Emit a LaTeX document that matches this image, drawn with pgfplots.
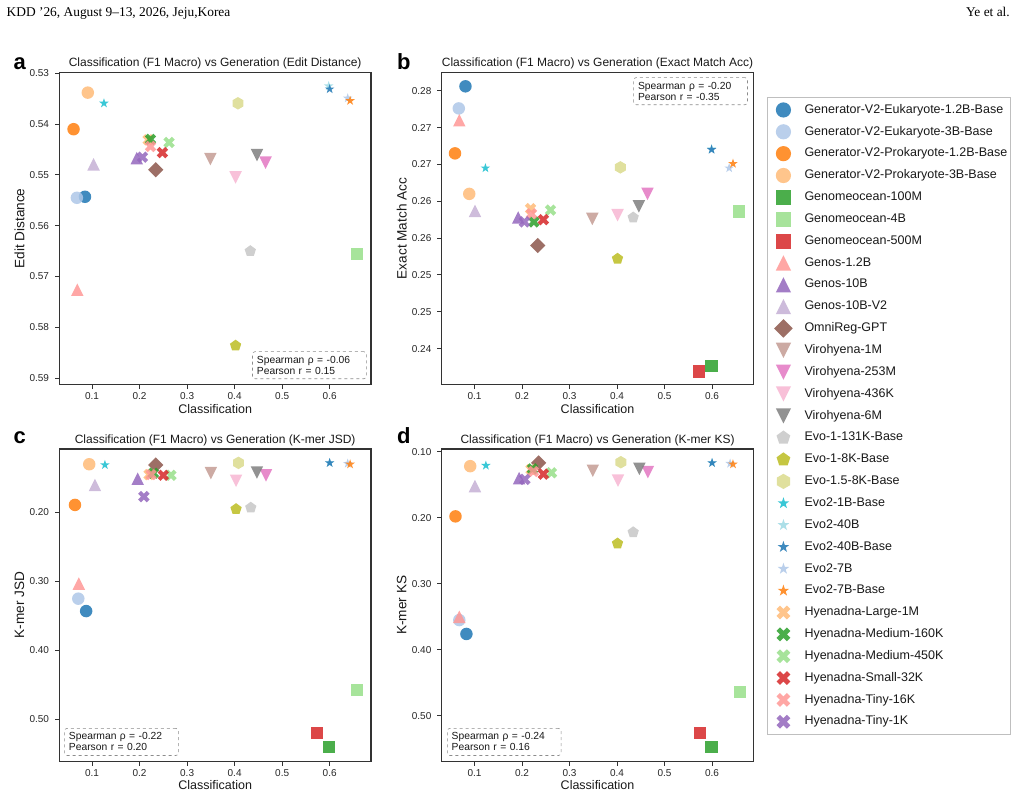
\documentclass[border=0pt]{standalone}
\usepackage{fontspec}
\setmainfont{Liberation Sans}
\newfontfamily\hdrfont{Liberation Serif}
\usepackage{pgfplots}
\pgfplotsset{compat=1.18}

% ---------- marker shapes (matplotlib-like, filled, no edge) ----------
\pgfdeclareplotmark{mc}{\pgfpathcircle{\pgfpointorigin}{\pgfplotmarksize}\pgfusepathqfill}
\pgfdeclareplotmark{msq}{\pgfpathrectanglecorners{\pgfpoint{-0.98\pgfplotmarksize}{-0.98\pgfplotmarksize}}{\pgfpoint{0.98\pgfplotmarksize}{0.98\pgfplotmarksize}}\pgfusepathqfill}
\pgfdeclareplotmark{mtu}{\pgfpathmoveto{\pgfpoint{0pt}{\pgfplotmarksize}}\pgfpathlineto{\pgfpoint{-\pgfplotmarksize}{-\pgfplotmarksize}}\pgfpathlineto{\pgfpoint{\pgfplotmarksize}{-\pgfplotmarksize}}\pgfpathclose\pgfusepathqfill}
\pgfdeclareplotmark{mtd}{\pgfpathmoveto{\pgfpoint{0pt}{-\pgfplotmarksize}}\pgfpathlineto{\pgfpoint{-\pgfplotmarksize}{\pgfplotmarksize}}\pgfpathlineto{\pgfpoint{\pgfplotmarksize}{\pgfplotmarksize}}\pgfpathclose\pgfusepathqfill}
\pgfdeclareplotmark{md}{\pgfpathmoveto{\pgfpoint{0pt}{1.22\pgfplotmarksize}}\pgfpathlineto{\pgfpoint{1.22\pgfplotmarksize}{0pt}}\pgfpathlineto{\pgfpoint{0pt}{-1.22\pgfplotmarksize}}\pgfpathlineto{\pgfpoint{-1.22\pgfplotmarksize}{0pt}}\pgfpathclose\pgfusepathqfill}
\pgfdeclareplotmark{mp}{\pgfpathmoveto{\pgfpointpolar{90}{0.95\pgfplotmarksize}}\pgfpathlineto{\pgfpointpolar{162}{0.95\pgfplotmarksize}}\pgfpathlineto{\pgfpointpolar{234}{0.95\pgfplotmarksize}}\pgfpathlineto{\pgfpointpolar{306}{0.95\pgfplotmarksize}}\pgfpathlineto{\pgfpointpolar{18}{0.95\pgfplotmarksize}}\pgfpathclose\pgfusepathqfill}
\pgfdeclareplotmark{mh}{\pgfpathmoveto{\pgfpointpolar{90}{\pgfplotmarksize}}\pgfpathlineto{\pgfpointpolar{150}{\pgfplotmarksize}}\pgfpathlineto{\pgfpointpolar{210}{\pgfplotmarksize}}\pgfpathlineto{\pgfpointpolar{270}{\pgfplotmarksize}}\pgfpathlineto{\pgfpointpolar{330}{\pgfplotmarksize}}\pgfpathlineto{\pgfpointpolar{30}{\pgfplotmarksize}}\pgfpathclose\pgfusepathqfill}
\pgfdeclareplotmark{mstar}{\pgfpathmoveto{\pgfpointpolar{90}{0.8\pgfplotmarksize}}\pgfpathlineto{\pgfpointpolar{126}{0.31\pgfplotmarksize}}\pgfpathlineto{\pgfpointpolar{162}{0.8\pgfplotmarksize}}\pgfpathlineto{\pgfpointpolar{198}{0.31\pgfplotmarksize}}\pgfpathlineto{\pgfpointpolar{234}{0.8\pgfplotmarksize}}\pgfpathlineto{\pgfpointpolar{270}{0.31\pgfplotmarksize}}\pgfpathlineto{\pgfpointpolar{306}{0.8\pgfplotmarksize}}\pgfpathlineto{\pgfpointpolar{342}{0.31\pgfplotmarksize}}\pgfpathlineto{\pgfpointpolar{18}{0.8\pgfplotmarksize}}\pgfpathlineto{\pgfpointpolar{54}{0.31\pgfplotmarksize}}\pgfpathclose\pgfusepathqfill}
\pgfdeclareplotmark{mX}{\pgfpathmoveto{\pgfpoint{-0.455\pgfplotmarksize}{-0.91\pgfplotmarksize}}\pgfpathlineto{\pgfpoint{0pt}{-0.455\pgfplotmarksize}}\pgfpathlineto{\pgfpoint{0.455\pgfplotmarksize}{-0.91\pgfplotmarksize}}\pgfpathlineto{\pgfpoint{0.91\pgfplotmarksize}{-0.455\pgfplotmarksize}}\pgfpathlineto{\pgfpoint{0.455\pgfplotmarksize}{0pt}}\pgfpathlineto{\pgfpoint{0.91\pgfplotmarksize}{0.455\pgfplotmarksize}}\pgfpathlineto{\pgfpoint{0.455\pgfplotmarksize}{0.91\pgfplotmarksize}}\pgfpathlineto{\pgfpoint{0pt}{0.455\pgfplotmarksize}}\pgfpathlineto{\pgfpoint{-0.455\pgfplotmarksize}{0.91\pgfplotmarksize}}\pgfpathlineto{\pgfpoint{-0.91\pgfplotmarksize}{0.455\pgfplotmarksize}}\pgfpathlineto{\pgfpoint{-0.455\pgfplotmarksize}{0pt}}\pgfpathlineto{\pgfpoint{-0.91\pgfplotmarksize}{-0.455\pgfplotmarksize}}\pgfpathclose\pgfusepathqfill}

% ---------- colours (tab20) ----------
\definecolor{t01}{HTML}{1F77B4}\definecolor{t02}{HTML}{AEC7E8}
\definecolor{t03}{HTML}{FF7F0E}\definecolor{t04}{HTML}{FFBB78}
\definecolor{t05}{HTML}{2CA02C}\definecolor{t06}{HTML}{98DF8A}
\definecolor{t07}{HTML}{D62728}\definecolor{t08}{HTML}{FF9896}
\definecolor{t09}{HTML}{9467BD}\definecolor{t10}{HTML}{C5B0D5}
\definecolor{t11}{HTML}{8C564B}\definecolor{t12}{HTML}{C49C94}
\definecolor{t13}{HTML}{E377C2}\definecolor{t14}{HTML}{F7B6D2}
\definecolor{t15}{HTML}{7F7F7F}\definecolor{t16}{HTML}{C7C7C7}
\definecolor{t17}{HTML}{BCBD22}\definecolor{t18}{HTML}{DBDB8D}
\definecolor{t19}{HTML}{17BECF}\definecolor{t20}{HTML}{9EDAE5}

\tikzset{statbox/.style={draw=black!45, dashed, rounded corners=2.5pt, fill=white, line width=0.6pt,
    align=left, text width=105pt, inner sep=4.4pt, font=\fontsize{10.3}{11}\selectfont, text=black!90}}

\pgfplotsset{
  ser/.style 2 args={only marks, mark=#1, color=#2, mark options={fill=#2, fill opacity=0.85}},
  s01/.style={ser={mc}{t01}}, s02/.style={ser={mc}{t02}}, s03/.style={ser={mc}{t03}}, s04/.style={ser={mc}{t04}},
  s05/.style={ser={msq}{t05}}, s06/.style={ser={msq}{t06}}, s07/.style={ser={msq}{t07}},
  s08/.style={ser={mtu}{t08}}, s09/.style={ser={mtu}{t09}}, s10/.style={ser={mtu}{t10}},
  s11/.style={ser={md}{t11}},
  s12/.style={ser={mtd}{t12}}, s13/.style={ser={mtd}{t13}}, s14/.style={ser={mtd}{t14}}, s15/.style={ser={mtd}{t15}},
  s16/.style={ser={mp}{t16}}, s17/.style={ser={mp}{t17}}, s18/.style={ser={mh}{t18}},
  s19/.style={ser={mstar}{t19}}, s20/.style={ser={mstar}{t20}}, s21/.style={ser={mstar}{t01}}, s22/.style={ser={mstar}{t02}}, s23/.style={ser={mstar}{t03}},
  s24/.style={ser={mX}{t04}}, s25/.style={ser={mX}{t05}}, s26/.style={ser={mX}{t06}}, s27/.style={ser={mX}{t07}}, s28/.style={ser={mX}{t08}}, s29/.style={ser={mX}{t09}},
  common/.style={
    scale only axis, width=311.7pt, height=312.4pt,
    anchor=north west,
    xmin=0.031, xmax=0.687,
    xtick={0.1,0.2,0.3,0.4,0.5,0.6}, xticklabels={0.1,0.2,0.3,0.4,0.5,0.6},
    tick align=outside, tick pos=left,
    major tick length=4.3pt,
    axis line style={black!80, line width=1.1pt},
    tick style={black!80, line width=0.9pt},
    /pgf/number format/assume math mode=true,
    tick label style={font=\fontsize{10}{12}\selectfont, text=black!85},
    yticklabel style={xshift=-2.5pt},
    every axis title/.style={at={(0.5,1)}, anchor=base, yshift=5.6pt, font=\fontsize{12}{14}\selectfont, text=black!90},
    every axis x label/.style={at={(axis description cs:0.5,-0.077)}, anchor=center, font=\fontsize{12.5}{14}\selectfont, text=black!90},
    every axis y label/.style={at={(axis description cs:-0.128,0.5)}, rotate=90, anchor=center, font=\fontsize{13.6}{15}\selectfont, text=black!90},
    xlabel={Classification},
    mark size=6.25pt,
    clip=false,
  },
}
\newcommand{\pt}[3]{\addplot[#1] coordinates {(#2,#3)};}

\begin{document}
\begin{tikzpicture}[x=1pt,y=1pt]
\useasboundingbox (0,0) rectangle (1020,-796);
\node[anchor=base west, inner sep=0pt, font=\hdrfont\fontsize{13.4}{15}\selectfont] at (6.5,-16.7) {KDD ’26, August 9–13, 2026, Jeju,Korea};
\node[anchor=base east, inner sep=0pt, font=\hdrfont\fontsize{13.4}{15}\selectfont] at (1010,-16.7) {Ye et al.};

\node[anchor=base west, inner sep=0pt, font=\bfseries\fontsize{22}{24}\selectfont] at (13.5,-69.3) {a};
\node[anchor=base west, inner sep=0pt, font=\bfseries\fontsize{22}{24}\selectfont] at (397,-69.8) {b};
\node[anchor=base west, inner sep=0pt, font=\bfseries\fontsize{22}{24}\selectfont] at (13.5,-443.3) {c};
\node[anchor=base west, inner sep=0pt, font=\bfseries\fontsize{22}{24}\selectfont] at (397,-443.3) {d};

% ---------------- panel a ----------------
\begin{axis}[common, at={(59.3pt,-72.3pt)},
  title={Classification (F1 Macro) vs Generation (Edit Distance)},
  ylabel={Edit Distance}, y dir=reverse,
  ymin=0.5298, ymax=0.5913,
  ytick={0.53,0.54,0.55,0.56,0.57,0.58,0.59},
  yticklabels={0.53,0.54,0.55,0.56,0.57,0.58,0.59}]
\pt{s01}{0.085}{0.5543}
\pt{s02}{0.068}{0.5545}
\pt{s03}{0.061}{0.5410}
\pt{s04}{0.091}{0.5338}
\pt{s06}{0.657}{0.5656}
\pt{s08}{0.069}{0.5726}
\pt{s09}{0.194}{0.5467}
\pt{s10}{0.103}{0.5479}
\pt{s11}{0.234}{0.5490}
\pt{s12}{0.349}{0.5469}
\pt{s13}{0.465}{0.5476}
\pt{s14}{0.402}{0.5505}
\pt{s15}{0.447}{0.5461}
\pt{s16}{0.433}{0.5650}
\pt{s17}{0.402}{0.5836}
\pt{s18}{0.407}{0.5359}
\pt{s19}{0.125}{0.5359}
\pt{s20}{0.598}{0.5325}
\pt{s21}{0.600}{0.5331}
\pt{s22}{0.638}{0.5349}
\pt{s23}{0.643}{0.5354}
\pt{s24}{0.218}{0.5431}
\pt{s25}{0.223}{0.5430}
\pt{s26}{0.262}{0.5436}
\pt{s27}{0.248}{0.5456}
\pt{s28}{0.223}{0.5444}
\pt{s29}{0.206}{0.5465}
\node[statbox, anchor=south east] at (rel axis cs:0.986,0.018) {Spearman ρ = -0.06\\Pearson r = 0.15};
\end{axis}

% ---------------- panel b ----------------
\begin{axis}[common, at={(441.7pt,-72.3pt)},
  title={Classification (F1 Macro) vs Generation (Exact Match Acc)},
  ylabel={Exact Match Acc},
  ymin=0.2401, ymax=0.2825,
  ytick={0.245,0.25,0.255,0.26,0.265,0.27,0.275,0.28},
  yticklabels={0.24,0.25,0.25,0.26,0.26,0.27,0.27,0.28},
  legend cell align=left,
  legend image code/.code={\path (-3.5pt,-9.5pt) (17pt,9.5pt);
    \draw[mark repeat=2,mark phase=2,#1] plot coordinates {(0pt,0pt) (8.5pt,0pt) (17pt,0pt)};},
  legend style={at={(1.0447,0.9208)}, anchor=north west, draw=black!25, line width=1.1pt, fill=white,
    font=\fontsize{12.5}{14}\selectfont, text=black!90,
    inner xsep=3pt, inner ysep=2.3pt, column sep=11.8pt, row sep=1.75pt,
    nodes={inner sep=0pt, text height=9.2pt, text depth=2.8pt}},
  legend image post style={mark size=7.6pt},
  legend entries={Generator-V2-Eukaryote-1.2B-Base, Generator-V2-Eukaryote-3B-Base, Generator-V2-Prokaryote-1.2B-Base, Generator-V2-Prokaryote-3B-Base, Genomeocean-100M, Genomeocean-4B, Genomeocean-500M, Genos-1.2B, Genos-10B, Genos-10B-V2, OmniReg-GPT, Virohyena-1M, Virohyena-253M, Virohyena-436K, Virohyena-6M, Evo-1-131K-Base, Evo-1-8K-Base, Evo-1.5-8K-Base, Evo2-1B-Base, Evo2-40B, Evo2-40B-Base, Evo2-7B, Evo2-7B-Base, Hyenadna-Large-1M, Hyenadna-Medium-160K, Hyenadna-Medium-450K, Hyenadna-Small-32K, Hyenadna-Tiny-16K, Hyenadna-Tiny-1K}]
\pt{s01}{0.081}{0.2806}
\pt{s02}{0.067}{0.2776}
\pt{s03}{0.059}{0.2715}
\pt{s04}{0.089}{0.2660}
\pt{s05}{0.599}{0.2426}
\pt{s06}{0.657}{0.2636}
\pt{s07}{0.573}{0.2419}
\pt{s08}{0.068}{0.2760}
\pt{s09}{0.192}{0.2628}
\pt{s10}{0.101}{0.2637}
\pt{s11}{0.233}{0.2590}
\pt{s12}{0.348}{0.2626}
\pt{s13}{0.464}{0.2660}
\pt{s14}{0.401}{0.2631}
\pt{s15}{0.446}{0.2643}
\pt{s16}{0.434}{0.2628}
\pt{s17}{0.401}{0.2572}
\pt{s18}{0.407}{0.2696}
\pt{s19}{0.123}{0.2695}
\pt{s20}{0.599}{0.2721}
\pt{s21}{0.599}{0.2720}
\pt{s22}{0.636}{0.2695}
\pt{s23}{0.644}{0.2701}
\pt{s24}{0.218}{0.2640}
\pt{s25}{0.225}{0.2622}
\pt{s26}{0.260}{0.2638}
\pt{s27}{0.245}{0.2625}
\pt{s28}{0.220}{0.2633}
\pt{s29}{0.205}{0.2622}
\node[statbox, anchor=north east] at (rel axis cs:0.982,0.984) {Spearman ρ = -0.20\\Pearson r = -0.35};
\end{axis}

% ---------------- panel c ----------------
\begin{axis}[common, at={(59.3pt,-449pt)},
  title={Classification (F1 Macro) vs Generation (K-mer JSD)},
  ylabel={K-mer JSD}, y dir=reverse,
  ymin=0.1079, ymax=0.5611,
  ytick={0.2,0.3,0.4,0.5},
  yticklabels={0.20,0.30,0.40,0.50}]
\pt{s01}{0.0875}{0.343}
\pt{s02}{0.071}{0.325}
\pt{s03}{0.064}{0.189}
\pt{s04}{0.094}{0.130}
\pt{s05}{0.599}{0.540}
\pt{s06}{0.657}{0.457}
\pt{s07}{0.574}{0.520}
\pt{s08}{0.072}{0.303}
\pt{s09}{0.196}{0.151}
\pt{s10}{0.106}{0.160}
\pt{s11}{0.234}{0.131}
\pt{s12}{0.350}{0.143}
\pt{s13}{0.466}{0.146}
\pt{s14}{0.403}{0.154}
\pt{s15}{0.447}{0.142}
\pt{s16}{0.434}{0.193}
\pt{s17}{0.403}{0.195}
\pt{s18}{0.408}{0.128}
\pt{s19}{0.127}{0.131}
\pt{s20}{0.600}{0.128}
\pt{s21}{0.600}{0.128}
\pt{s22}{0.638}{0.129}
\pt{s23}{0.643}{0.130}
\pt{s24}{0.220}{0.145}
\pt{s25}{0.229}{0.143}
\pt{s26}{0.266}{0.146}
\pt{s27}{0.250}{0.146}
\pt{s28}{0.224}{0.145}
\pt{s29}{0.209}{0.177}
\node[statbox, anchor=south west] at (rel axis cs:0.016,0.018) {Spearman ρ = -0.22\\Pearson r = 0.20};
\end{axis}

% ---------------- panel d ----------------
\begin{axis}[common, at={(441.7pt,-449pt)},
  title={Classification (F1 Macro) vs Generation (K-mer KS)},
  ylabel={K-mer KS}, y dir=reverse,
  ymin=0.096, ymax=0.569,
  ytick={0.1,0.2,0.3,0.4,0.5},
  yticklabels={0.10,0.20,0.30,0.40,0.50}]
\pt{s01}{0.083}{0.376}
\pt{s02}{0.068}{0.355}
\pt{s03}{0.060}{0.198}
\pt{s04}{0.091}{0.122}
\pt{s05}{0.599}{0.547}
\pt{s06}{0.658}{0.464}
\pt{s07}{0.574}{0.526}
\pt{s08}{0.068}{0.350}
\pt{s09}{0.194}{0.140}
\pt{s10}{0.101}{0.152}
\pt{s11}{0.235}{0.117}
\pt{s12}{0.349}{0.129}
\pt{s13}{0.465}{0.131}
\pt{s14}{0.402}{0.144}
\pt{s15}{0.447}{0.126}
\pt{s16}{0.434}{0.222}
\pt{s17}{0.401}{0.239}
\pt{s18}{0.408}{0.116}
\pt{s19}{0.124}{0.121}
\pt{s20}{0.600}{0.117}
\pt{s21}{0.600}{0.117}
\pt{s22}{0.638}{0.118}
\pt{s23}{0.644}{0.119}
\pt{s24}{0.219}{0.127}
\pt{s25}{0.222}{0.126}
\pt{s26}{0.262}{0.132}
\pt{s27}{0.245}{0.134}
\pt{s28}{0.224}{0.130}
\pt{s29}{0.206}{0.142}
\node[statbox, anchor=south west] at (rel axis cs:0.017,0.018) {Spearman ρ = -0.24\\Pearson r = 0.16};
\end{axis}
\end{tikzpicture}
\end{document}
